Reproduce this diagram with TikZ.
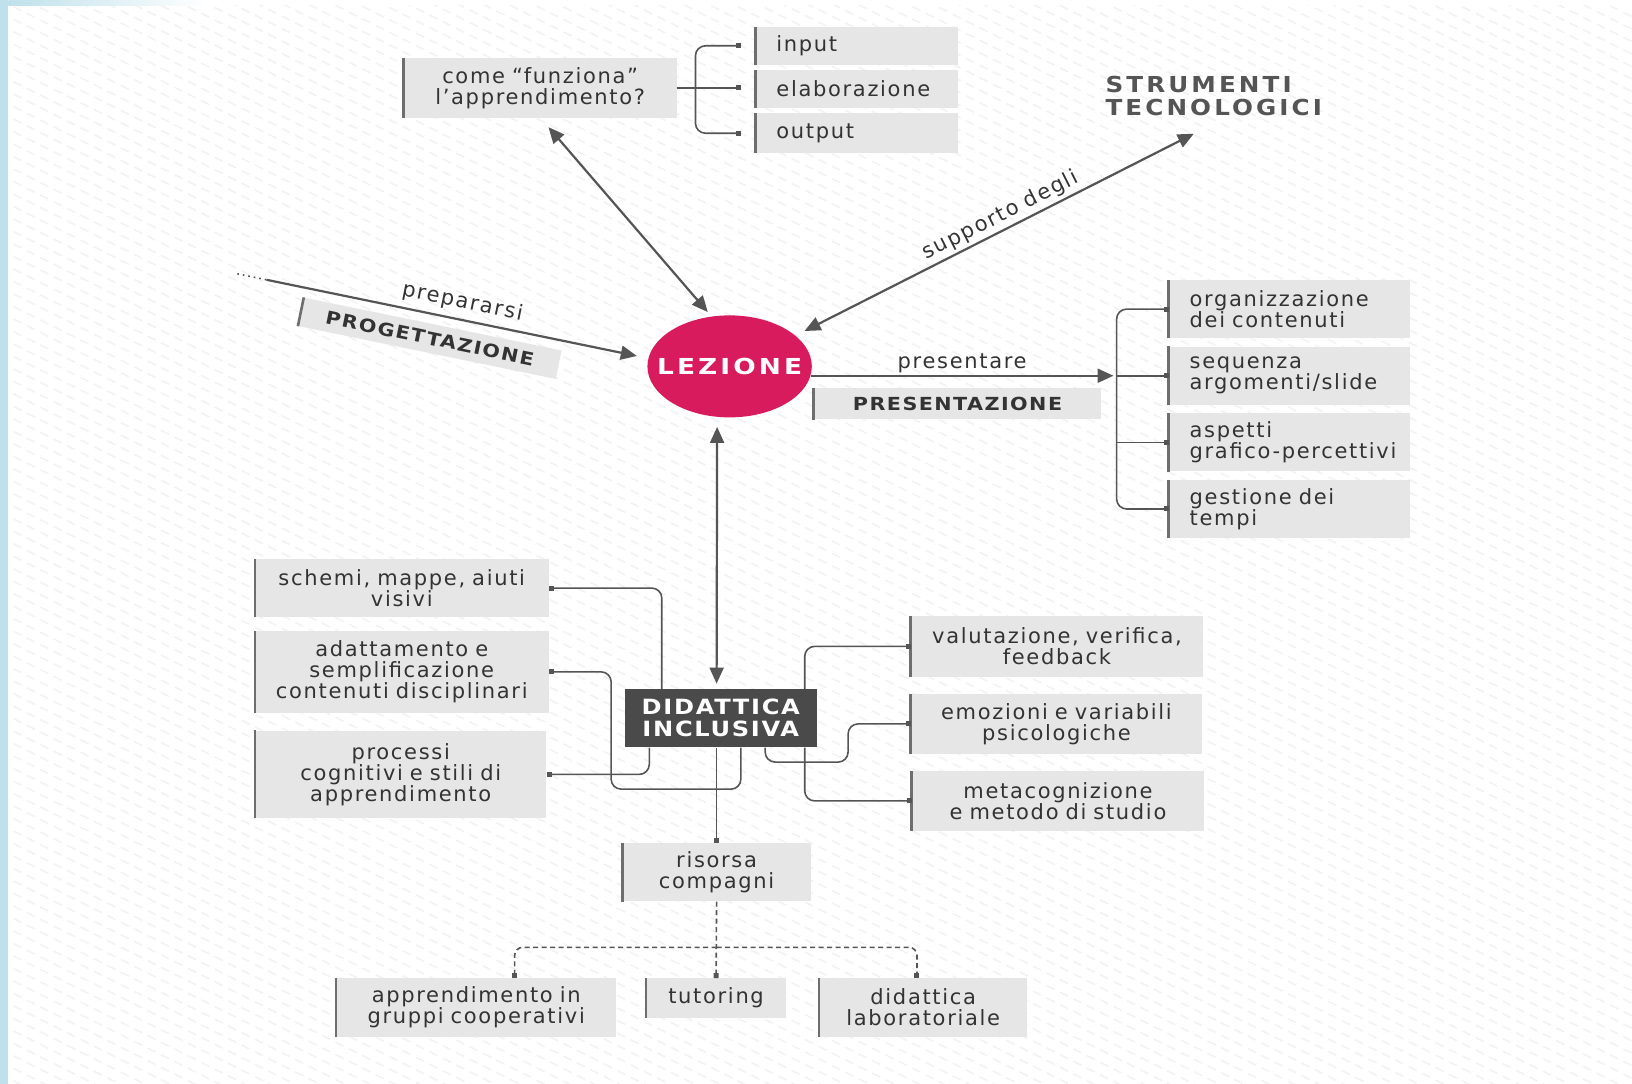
\documentclass[tikz,border=0pt]{standalone}
\usepackage{fontspec}
\setmainfont{DejaVu Sans}[LetterSpace=8]
\newfontfamily\capsfont{DejaVu Sans Bold}[FakeStretch=1.15,LetterSpace=8]
\newfontfamily\lezfont{DejaVu Sans Bold}[FakeStretch=1.2,LetterSpace=14]
\newfontfamily\strumfont{DejaVu Sans Bold}[FakeStretch=1.12,LetterSpace=14]
\usetikzlibrary{arrows.meta,calc,shapes.geometric}
\definecolor{boxgray}{HTML}{E6E6E6}
\definecolor{bargray}{HTML}{6E6E6E}
\definecolor{txtgray}{HTML}{333333}
\definecolor{linegray}{HTML}{555555}
\definecolor{lezred}{HTML}{D81B5C}
\definecolor{didgray}{HTML}{4A4A4A}
\definecolor{stripblue}{HTML}{BFE1EB}
\newcommand\boxfont{\fontsize{21}{21}\selectfont\hyphenpenalty=10000\exhyphenpenalty=10000}
\newcommand\GBox[7][center]{%
  \pgfmathsetmacro\bw{(#5-#3-40)*1.0408}%
  \pgfmathsetmacro\bh{(#6-#4)*1.0408}%
  \node[gbox, align=#1, text width=\bw pt, minimum height=\bh pt] (#2) at ({(#3+#5)/2},{(#4+#6)/2}) {#7};
  \draw[gbar] (#2.north west) -- (#2.south west);}
\tikzset{
  tri/.tip={Triangle[length=16pt,width=14pt]},
  sqd/.tip={Square[length=5pt,width=5pt]},
  gbox/.style={fill=boxgray, text=txtgray, inner xsep=20.8pt, inner ysep=0pt, font=\boxfont},
  gbar/.style={draw=bargray, line width=2.6pt},
  arr/.style={draw=linegray, line width=2.2pt, -tri},
  darr/.style={draw=linegray, line width=2.2pt, tri-tri},
  conn/.style={draw=linegray, line width=1.6pt, rounded corners=10pt},
  dconn/.style={draw=linegray, line width=1.6pt, rounded corners=8pt, dash pattern=on 5pt off 3.5pt},
  lbl/.style={text=txtgray, font=\fontsize{21}{21}\selectfont},
}
\begin{document}
\begin{tikzpicture}[x=1.0408pt, y=-1.0408pt]
\useasboundingbox (0,0) rectangle (1568,1041);
\fill[white] (0,0) rectangle (1568,1041);
% faint diagonal texture
\begin{scope}
  \clip (8,5) rectangle (1568,1041);
  \foreach \i in {-66,...,87} {
    \draw[black!5, line width=1.5pt, dash pattern=on 9pt off 6pt] (0,\i*12) -- (1568,\i*12+784);
  }
\end{scope}
\fill[stripblue] (0,0) rectangle (8,1041);
\shade[left color=stripblue, right color=white] (8,0) rectangle (200,5);

% ---------- top ----------
\GBox{come}{388}{56}{650}{113}{come “funziona”\\l’apprendimento?}
\GBox[left]{inp}{726}{26}{920}{62}{input}
\GBox[left]{elab}{726}{67}{920}{104}{elaborazione}
\GBox[left]{outp}{726}{109}{920}{147}{output}

\node[anchor=north west, align=left, inner sep=0pt, text=linegray,
      font=\strumfont\fontsize{22}{23}\selectfont] (strum) at (1062,73) {STRUMENTI\\TECNOLOGICI};

% ---------- centre ----------
\node[ellipse, fill=lezred, minimum width=164.4pt, minimum height=102pt, inner sep=0pt,
      text=white, font=\lezfont\fontsize{22}{22}\selectfont] (lez) at (701,352) {\makebox[0pt][c]{LEZIONE}};

\node[fill=boxgray, rotate=-11.6, minimum width=263pt, minimum height=29pt, inner sep=0pt,
      text=txtgray, font=\capsfont\fontsize{18}{18}\selectfont] (prog) at (413,325) {PROGETTAZIONE};
\draw[gbar] (prog.north west) -- (prog.south west);

\GBox{pres}{782}{373}{1058}{403}{\capsfont\fontsize{18}{18}\selectfont PRESENTAZIONE}

\GBox[left]{org}{1123}{269}{1355}{325}{organizzazione\\dei contenuti}
\GBox[left]{seq}{1123}{333}{1355}{389}{sequenza\\argomenti/slide}
\GBox[left]{asp}{1123}{397}{1355}{453}{aspetti\\grafico-percettivi}
\GBox[left]{gest}{1123}{461}{1355}{517}{gestione dei\\tempi}

% ---------- lower ----------
\node[fill=didgray, text=white, minimum width=192.5pt, minimum height=58.3pt, inner sep=0pt,
      align=center, font=\capsfont\fontsize{21}{22}\selectfont] (did) at (692.5,690) {DIDATTICA\\INCLUSIVA};

\GBox{schemi}{245}{537}{527}{593}{schemi, mappe, aiuti\\visivi}
\GBox{adat}{245}{606}{527}{685}{adattamento e\\semplificazione\\contenuti disciplinari}
\GBox{proc}{245}{702}{525}{786}{processi\\cognitivi e stili di\\apprendimento}

\GBox{valu}{875}{592}{1156}{650}{valutazione, verifica,\\feedback}
\GBox{emoz}{875}{667}{1155}{724}{emozioni e variabili\\psicologiche}
\GBox{meta}{876}{741}{1157}{798}{metacognizione\\e metodo di studio}

\GBox{ris}{598}{810}{779}{866}{risorsa\\compagni}
\GBox{appr}{323}{940}{592}{996}{apprendimento in\\gruppi cooperativi}
\GBox{tut}{621}{940}{755}{978}{tutoring}
\GBox{dlab}{787}{940}{987}{996}{didattica\\laboratoriale}

% ---------- arrows ----------
\draw[darr] ($(come.south)+(8,9)$) -- ($(lez.north)+(-21,-3)$);
\draw[darr] ($(lez.center)+(72,-34)$) -- ($(strum.south west)+(85,17)$)
  node[lbl, sloped, above, pos=0.52, inner sep=3pt] {supporto degli};

\coordinate (pstart) at (228,263);
\coordinate (psolid) at (256,268.8);
\draw[draw=linegray, line width=1.6pt, dash pattern=on 1.6pt off 4pt] (pstart) -- (psolid);
\draw[arr] (psolid) -- ($(lez.west)+(-10,-10)$)
  node[lbl, sloped, above, pos=0.52, inner sep=6pt] {prepararsi};

\draw[arr] ($(lez.center)+(78,9)$) -- ($(seq.west)+(-53,0)$)
  node[lbl, midway, above, inner sep=2pt] {presentare};

\draw[darr] ($(lez.south)+(-12,9)$) -- ($(did.north)+(-4,-5)$);

% top brace
\draw[conn, sqd-sqd] ($(inp.west)+(-14,0)$) -| ($(come.east)+(18,0)$) |- ($(outp.west)+(-14,0)$);
\draw[conn, -sqd] (come.east) -- ($(come.east -| elab.west)+(-14,0)$);

% right brace
\draw[conn, sqd-sqd] (org.west) -| ($(seq.west)+(-50,0)$) |- (gest.west);
\draw[conn, -sqd] ($(seq.west)+(-50,0)$) -- (seq.west);
\draw[conn, -sqd] ($(asp.west)+(-50,0)$) -- (asp.west);

% didattica connectors
\draw[conn, sqd-] (schemi.east) -| ($(did.north west)+(36,0)$);
\draw[conn, sqd-] (adat.east) -- ++(60,0) |- ($(did.south west)+(112,40)$) -- ($(did.south west)+(112,0)$);
\draw[conn, sqd-] (proc.east) -| ($(did.south west)+(24,0)$);

\draw[conn, -sqd] ($(did.north east)+(-12,0)$) |- (valu.west);
\draw[conn, -sqd] ($(did.south east)+(-50,0)$) -- ++(0,14) -| ($(emoz.west)+(-60,0)$) -- (emoz.west);
\draw[conn, -sqd] ($(did.south east)+(-12,0)$) |- (meta.west);

\draw[conn, -sqd] (ris.north |- did.south) -- (ris.north);

% dashed tree
\draw[dconn, -sqd] (ris.south) -- (tut.north);
\draw[dconn, -sqd] ($(ris.south)+(0,44)$) -| ($(appr.north)+(37,0)$);
\draw[dconn, -sqd] ($(ris.south)+(0,44)$) -| ($(dlab.north)+(-6,0)$);
\end{tikzpicture}
\end{document}
